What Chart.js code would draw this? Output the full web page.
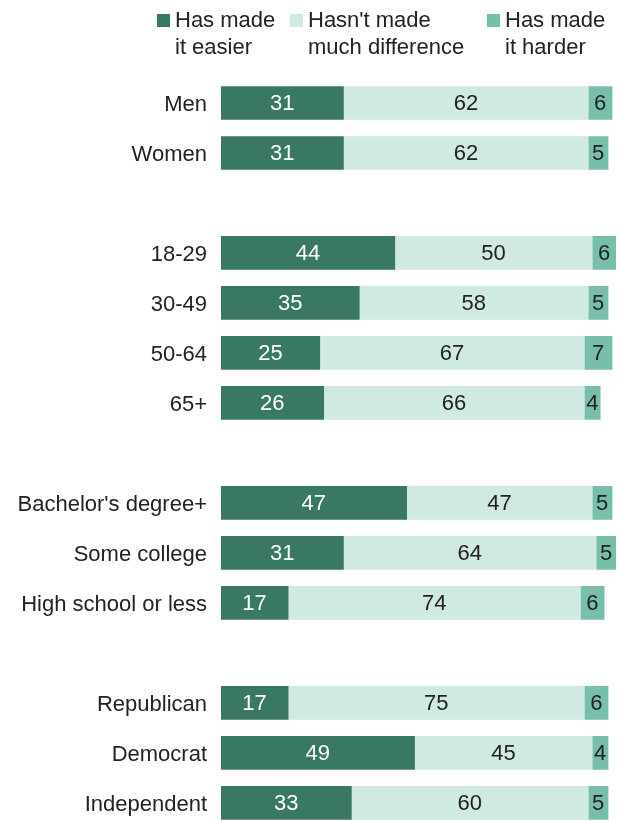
<!DOCTYPE html>
<html>
<head>
<meta charset="utf-8">
<script src="https://cdn.jsdelivr.net/npm/chart.js@4"></script>
<style>
  html, body { margin:0; padding:0; background:#fff; overflow:hidden; }
  #wrap { position:relative; width:621px; height:855px; }
  canvas { position:absolute; left:0; top:0; }
  .leg { position:absolute; top:6px; font-family:"Liberation Sans", Arial, sans-serif; font-size:22px; line-height:27px; color:#222; }
  .sw { position:absolute; width:13px; height:13px; top:14px; }
</style>
</head>
<body>
<div id="wrap">
  <canvas id="c" width="621" height="855"></canvas>
</div>
<script>
const categories = ['Men','Women','', '18-29','30-49','50-64','65+','', "Bachelor's degree+",'Some college','High school or less','', 'Republican','Democrat','Independent'];
const easier     = [31, 31, null, 44, 35, 25, 26, null, 47, 31, 17, null, 17, 49, 33];
const noDiff     = [62, 62, null, 50, 58, 67, 66, null, 47, 64, 74, null, 75, 45, 60];
const harder     = [6, 5, null, 6, 5, 7, 4, null, 5, 5, 6, null, 6, 4, 5];
const seriesNames = [['Has made','it easier'], ["Hasn't made",'much difference'], ['Has made','it harder']];
const colors = ['#3a7866', '#d1e9e3', '#78bfab'];
const labelColors = ['#ffffff', '#222222', '#222222'];

const FONT = '"Liberation Sans", Arial, sans-serif';

const wrap = document.getElementById('wrap');
const legX = [157, 290, 487];
seriesNames.forEach((n, i) => {
  const sw = document.createElement('div');
  sw.className = 'sw';
  sw.style.left = legX[i] + 'px';
  sw.style.background = colors[i];
  wrap.appendChild(sw);
  const t = document.createElement('div');
  t.className = 'leg';
  t.style.left = (legX[i] + 18) + 'px';
  t.innerHTML = n.join('<br>');
  wrap.appendChild(t);
});

const valueLabels = {
  id: 'valueLabels',
  afterDatasetsDraw(chart) {
    const ctx = chart.ctx;
    ctx.save();
    ctx.font = '22px ' + FONT;
    ctx.textAlign = 'center';
    ctx.textBaseline = 'middle';
    chart.data.datasets.forEach((ds, di) => {
      const meta = chart.getDatasetMeta(di);
      meta.data.forEach((bar, i) => {
        const v = ds.data[i];
        if (v == null) return;
        const x = (bar.x + bar.base) / 2;
        ctx.fillStyle = labelColors[di];
        ctx.fillText(String(v), x, bar.y + 1);
      });
    });
    ctx.restore();
  }
};

new Chart(document.getElementById('c'), {
  type: 'bar',
  data: {
    labels: categories,
    datasets: [
      { label: seriesNames[0].join(' '), data: easier, backgroundColor: colors[0] },
      { label: seriesNames[1].join(' '), data: noDiff, backgroundColor: colors[1] },
      { label: seriesNames[2].join(' '), data: harder, backgroundColor: colors[2] }
    ]
  },
  options: {
    indexAxis: 'y',
    responsive: false,
    animation: false,
    events: [],
    barThickness: 33,
    layout: { padding: { top: 78, right: 5, bottom: 2, left: 0 } },
    plugins: { legend: { display: false }, tooltip: { enabled: false } },
    scales: {
      x: { stacked: true, min: 0, max: 100, display: false },
      y: {
        stacked: true,
        grid: { display: false, drawTicks: false },
        border: { display: false },
        ticks: { color: '#222', font: { family: FONT, size: 22 }, padding: 14, labelOffset: 2, autoSkip: false },
        afterFit(scale) { scale.width = 221; }
      }
    }
  },
  plugins: [valueLabels]
});
</script>
</body>
</html>
